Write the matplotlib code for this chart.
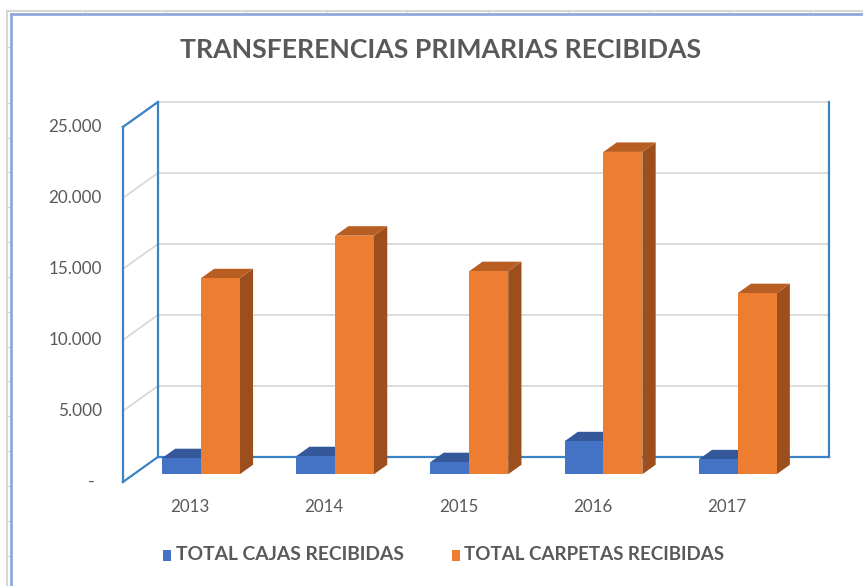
import matplotlib
matplotlib.use("Agg")
import matplotlib.pyplot as plt
from matplotlib.patches import Polygon
from matplotlib.lines import Line2D

# --- DATA ---
years = ["2013", "2014", "2015", "2016", "2017"]
cajas = [1130, 1270, 850, 2320, 1050]
carpetas = [13800, 16800, 14300, 22700, 12750]
ticks = [0, 5000, 10000, 15000, 20000, 25000]
tick_labels = ["-", "5.000", "10.000", "15.000", "20.000", "25.000"]
series = ["TOTAL CAJAS RECIBIDAS", "TOTAL CARPETAS RECIBIDAS"]

# --- COLORS ---
BLUE = ("#4472C4", "#34589A", "#2F5290")
ORANGE = ("#ED7D31", "#B95E22", "#9C4F1D")
WALL = "#3A83C6"
GRID = "#D9D9D9"
TXT = "#595959"
FAM = ["Lato", "DejaVu Sans"]

# --- GEOMETRY (pixel layout of the plot cube) ---
W, H = 863, 586
PX_CAT = 134.2          # px per category
X0_PX = 190             # front centre of first category
Y0_PX = 482             # front zero line
PX_VAL = 355 / 25000    # px per value unit
DX = 35 / PX_CAT        # depth shift in category units
DY = 25 / PX_VAL        # depth shift in value units
BAR_W = 0.29
D0, D1 = 0.31, 0.69
VMAX = 25000

fig = plt.figure(figsize=(W / 100, H / 100), dpi=100)
ax = fig.add_axes([0, 0, 1, 1])
ax.set_xlim((0 - X0_PX) / PX_CAT, (W - X0_PX) / PX_CAT)
ax.set_ylim((Y0_PX - H) / PX_VAL, Y0_PX / PX_VAL)
ax.axis("off")
fig.canvas.draw()
r = fig.canvas.get_renderer()


def fx(px):
    return px / W


def fy(py):
    return 1 - py / H


def fit(t, target_w):
    # scale font so the text spans target_w pixels
    fs = t.get_fontsize()
    w = t.get_window_extent(r).width
    t.set_fontsize(fs * target_w / w)


# sheet background + chart border
fig.add_artist(Line2D([fx(7), fx(7)], [fy(11), 0], color="#D0D0D0", lw=1.2))
fig.add_artist(Line2D([fx(7), 1], [fy(11), fy(11)], color="#D0D0D0", lw=1.2))
for py in [47, 103, 138, 172, 207, 242, 277, 312, 347, 381, 416, 451, 486, 521, 556]:
    fig.add_artist(Line2D([fx(7), fx(11)], [fy(py), fy(py)], color="#D8D8D8", lw=0.8))
for px in [85, 166, 246, 327, 407, 488, 568, 649, 729, 810]:
    fig.add_artist(Line2D([fx(px), fx(px)], [fy(11), fy(14)], color="#D8D8D8", lw=0.8))
fig.add_artist(Line2D([fx(11), fx(11)], [fy(14), 0], color="#8EAADB", lw=2))
fig.add_artist(Line2D([fx(11), 1], [fy(14), fy(14)], color="#8EAADB", lw=2))

xl, xr = -0.5, len(years) - 0.5

# gridlines on back wall and left wall
for v in ticks[1:]:
    ax.plot([xl + DX, xr + DX], [v + DY, v + DY], color=GRID, lw=1.3, zorder=1)
    ax.plot([xl, xl + DX], [v, v + DY], color=GRID, lw=1.3, zorder=1)

# wall edges
ax.plot([xl, xl], [0, VMAX], color=WALL, lw=1.6, zorder=2)
ax.plot([xl, xl + DX], [VMAX, VMAX + DY], color=WALL, lw=1.6, zorder=2)
ax.plot([xl, xl + DX], [0, DY], color=WALL, lw=1.6, zorder=2)
ax.plot([xl + DX, xl + DX], [DY, VMAX + DY], color=WALL, lw=1.6, zorder=2)
ax.plot([xl + DX, xr + DX], [DY, DY], color=WALL, lw=1.6, zorder=2)
ax.plot([xr + DX, xr + DX], [DY, VMAX + DY], color=WALL, lw=1.6, zorder=2)


def bar3d(x, h, cols, z):
    ox, oy = D0 * DX, D0 * DY
    bx, by = D1 * DX, D1 * DY
    front = [(x + ox, oy), (x + BAR_W + ox, oy), (x + BAR_W + ox, h + oy), (x + ox, h + oy)]
    top = [(x + ox, h + oy), (x + BAR_W + ox, h + oy), (x + BAR_W + bx, h + by), (x + bx, h + by)]
    side = [(x + BAR_W + ox, oy), (x + BAR_W + bx, by), (x + BAR_W + bx, h + by), (x + BAR_W + ox, h + oy)]
    ax.add_patch(Polygon(side, closed=True, fc=cols[2], ec="none", zorder=z))
    ax.add_patch(Polygon(top, closed=True, fc=cols[1], ec="none", zorder=z))
    ax.add_patch(Polygon(front, closed=True, fc=cols[0], ec="none", zorder=z))


for i in range(len(years)):
    bar3d(i - BAR_W, cajas[i], BLUE, 3 + 2 * i)
    bar3d(i, carpetas[i], ORANGE, 4 + 2 * i)
    t = ax.text(i, -1750, years[i], ha="center", va="center", fontsize=13,
                color=TXT, family=FAM)
    fit(t, 39)

# value axis labels
for v, lab in zip(ticks, tick_labels):
    if lab == "-":
        ax.text(xl - 32 / PX_CAT, v, lab, ha="center", va="center", fontsize=13,
                color=TXT, family=FAM)
    else:
        t = ax.text(xl - 21 / PX_CAT, v, lab, ha="right", va="center", fontsize=13,
                    color=TXT, family=FAM)
        fit(t, 9 * len(lab) - 1)

# title, fitted to width
title = fig.text(fx(441), fy(50), "TRANSFERENCIAS PRIMARIAS RECIBIDAS", ha="center", va="center",
                 fontsize=20, fontweight="bold", color=TXT, family=FAM)
fit(title, 523)

# legend
leg_items = [(163, 176, 405, BLUE[0], series[0]), (452, 464, 725, ORANGE[0], series[1])]
for sx, tx, tend, col, lab in leg_items:
    fig.add_artist(plt.Rectangle((fx(sx), fy(561)), 8 / W, 11 / H, fc=col, ec="none"))
    t = fig.text(fx(tx), fy(555), lab, ha="left", va="center", fontsize=14,
                 fontweight="bold", color=TXT, family=FAM)
    fit(t, tend - tx)

fig.savefig("out.png", dpi=100)
